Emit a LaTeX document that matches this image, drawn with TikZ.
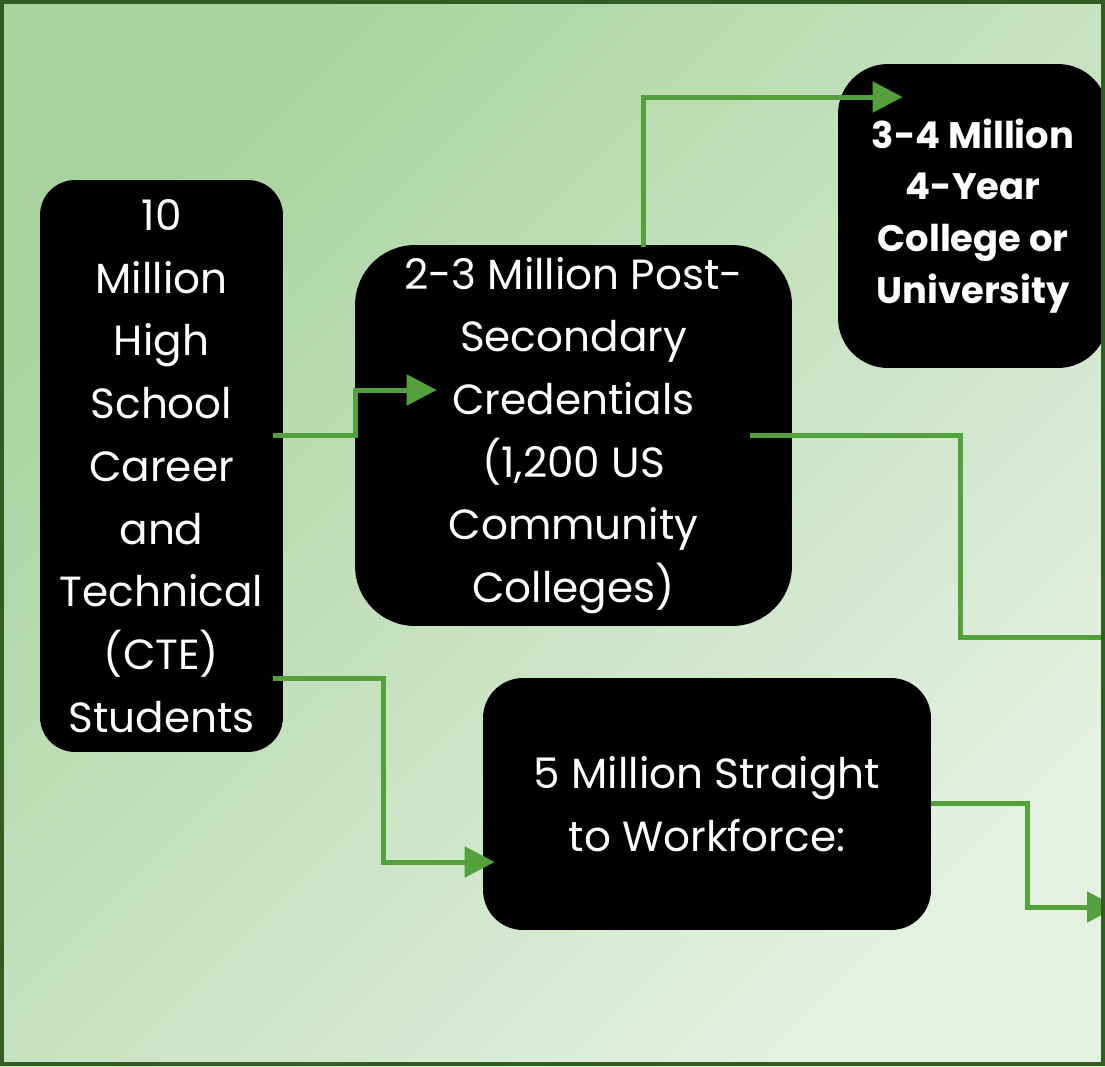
\documentclass[tikz,border=0pt]{standalone}
\usepackage{fontspec}
\setmainfont{Poppins}
\usetikzlibrary{arrows.meta, positioning, calc}
\definecolor{bgdark}{RGB}{168,211,158}
\definecolor{bglight}{RGB}{228,241,225}
\definecolor{framegreen}{RGB}{50,92,33}
\definecolor{flowgreen}{RGB}{84,160,60}
\tikzset{
  stage/.style={rectangle, fill=black, text=white, align=center,
    inner sep=0pt, font=\fontsize{24}{35.7}\selectfont},
  boldstage/.style={stage, font=\fontsize{21}{29.5}\selectfont\bfseries},
  flow/.style={-{Triangle[length=0.6cm, width=0.6cm]}, line width=0.1cm,
    color=flowgreen},
  line/.style={line width=0.1cm, color=flowgreen}
}

\begin{document}
\begin{tikzpicture}[x=0.02cm, y=-0.02cm]
  \useasboundingbox (0,0) rectangle (1105,1066);
  \clip (0,0) rectangle (1105,1066);

  % Background
  \shade[top color=bgdark, bottom color=bglight, shading angle=45]
    (0,0) rectangle (1105,1066);

  % Stages
  \node[stage, minimum width=4.86cm, minimum height=11.44cm,
    rounded corners=0.7cm] (hs) at (161.5,466)
    {10\\Million\\High\\School\\Career\\and\\Technical\\(CTE)\\Students};
  \node[stage, minimum width=8.74cm, minimum height=7.62cm,
    rounded corners=1.2cm] (ps) at (573.5,435.5)
    {2-3 Million Post-\\Secondary\\Credentials\\(1,200 US\\Community\\Colleges)};
  \node[boldstage, minimum width=5.4cm, minimum height=6.08cm,
    rounded corners=1cm] (uni) at (973,216)
    {3-4 Million\\4-Year\\College or\\University};
  \node[stage, minimum width=8.96cm, minimum height=5.04cm,
    rounded corners=0.8cm] (wf) at (707,804)
    {5 Million Straight\\to Workforce:};

  % Free ends at the right edge
  \coordinate (out1) at (1112,637);
  \coordinate (out2) at (1117,907);

  % Flows
  \draw[flow] ($(hs.east)+(-10,-31)$) -- ++(82,0) |- ($(ps.west)+(82,-45.5)$);
  \draw[flow] ($(hs.east)+(-10,212)$) -- ++(110,0) |- ($(wf.west)+(12,58)$);
  \draw[flow] ($(ps.north)+(69.5,2)$) |- ($(uni.west)+(65,-119)$);
  \draw[line] ($(ps.east)+(-42,0)$) -- ++(210,0) |- (out1);
  \draw[flow] ($(wf.east)+(0,-1)$) -- ++(96,0) |- (out2);

  % Frame
  \draw[draw=framegreen, line width=0.08cm] (2,2) rectangle (1103,1064);
\end{tikzpicture}
\end{document}
